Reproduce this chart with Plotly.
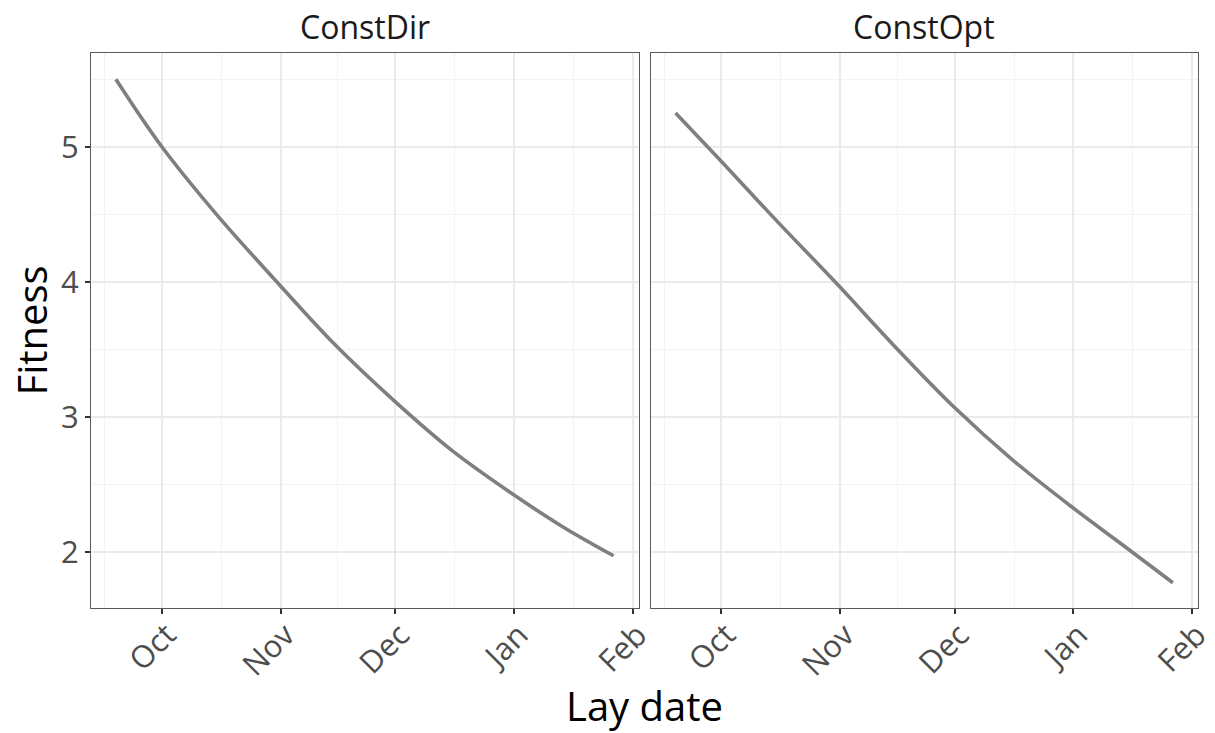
import plotly.graph_objects as go

# Fitted fitness curves by lay date for the two selection scenarios
lay_dates_constdir = ["2019-09-19", "2019-10-01", "2019-10-16", "2019-10-31", "2019-11-15",
                      "2019-12-01", "2019-12-16", "2020-01-01", "2020-01-14", "2020-01-27"]
fitness_constdir = [5.50, 5.00, 4.475, 4.00, 3.54, 3.11, 2.745, 2.42, 2.18, 1.97]

lay_dates_constopt = ["2019-09-19", "2019-10-01", "2019-10-16", "2019-10-31", "2019-11-15",
                      "2019-12-01", "2019-12-16", "2020-01-01", "2020-01-14", "2020-01-27"]
fitness_constopt = [5.25, 4.89, 4.434, 3.99, 3.53, 3.066, 2.683, 2.323, 2.048, 1.77]

panel_titles = ["ConstDir", "ConstOpt"]

month_ticks = ["2019-10-01", "2019-11-01", "2019-12-01", "2020-01-01", "2020-02-01"]
month_labels = ["Oct", "Nov", "Dec", "Jan", "Feb"]
month_minor = ["2019-09-16", "2019-10-16 12:00", "2019-11-16", "2019-12-16 12:00", "2020-01-16 12:00"]

fitness_ticks = [2, 3, 4, 5]
fitness_minor = [2.5, 3.5, 4.5, 5.5]

x_range = ["2019-09-12 12:00", "2020-02-02 12:00"]
y_range = [1.581, 5.694]

W, H = 1215, 733
FONT = "Open Sans"
LINE_COL = "#7f7f7f"
GRID_MAJOR = "#EBEBEB"
GRID_MINOR = "#F3F3F3"
BORDER = "#5a5a5a"

fig = go.Figure()
fig.add_trace(go.Scatter(x=lay_dates_constdir, y=fitness_constdir, mode="lines",
                         line=dict(color=LINE_COL, width=3.6, shape="spline", smoothing=1.0),
                         xaxis="x", yaxis="y", showlegend=False, hoverinfo="skip"))
fig.add_trace(go.Scatter(x=lay_dates_constopt, y=fitness_constopt, mode="lines",
                         line=dict(color=LINE_COL, width=3.6, shape="spline", smoothing=1.0),
                         xaxis="x2", yaxis="y2", showlegend=False, hoverinfo="skip"))

left_dom = [91 / W, 638.5 / W]
right_dom = [650.7 / W, 1197.7 / W]
y_dom = [1 - 608.3 / H, 1 - 53 / H]


def xaxis_cfg(anchor):
    return dict(
        type="date", range=x_range, anchor=anchor,
        tickmode="array", tickvals=month_ticks, ticktext=month_labels,
        tickangle=-45, tickfont=dict(family=FONT, size=31, color="#4D4D4D"),
        ticklabelstandoff=-10, ticklabelshift=5,
        ticks="outside", ticklen=5, tickwidth=1.5, tickcolor="#333333",
        showgrid=True, gridcolor=GRID_MAJOR, gridwidth=2,
        minor=dict(tickvals=month_minor, showgrid=True, gridcolor=GRID_MINOR, gridwidth=1, ticks=""),
        showline=True, mirror=True, linecolor=BORDER, linewidth=1.2,
        zeroline=False, automargin=False, fixedrange=True,
    )


def yaxis_cfg(anchor, labels):
    return dict(
        range=y_range, anchor=anchor,
        tickmode="array", tickvals=fitness_ticks,
        showticklabels=labels,
        tickfont=dict(family=FONT, size=31, color="#4D4D4D"),
        ticks="outside" if labels else "", ticklen=5, tickwidth=1.5, tickcolor="#333333",
        showgrid=True, gridcolor=GRID_MAJOR, gridwidth=2,
        minor=dict(tickvals=fitness_minor, showgrid=True, gridcolor=GRID_MINOR, gridwidth=1, ticks=""),
        showline=True, mirror=True, linecolor=BORDER, linewidth=1.2,
        zeroline=False, automargin=False, fixedrange=True,
    )


xa1 = xaxis_cfg("y"); xa1["domain"] = left_dom
xa2 = xaxis_cfg("y2"); xa2["domain"] = right_dom
ya1 = yaxis_cfg("x", True); ya1["domain"] = y_dom
ya2 = yaxis_cfg("x2", False); ya2["domain"] = y_dom; ya2["matches"] = "y"

annotations = [
    dict(text=panel_titles[0], x=sum(left_dom) / 2, y=1 - 27 / H, xref="paper", yref="paper",
         xanchor="center", yanchor="middle", showarrow=False,
         font=dict(family=FONT, size=32, color="#1A1A1A")),
    dict(text=panel_titles[1], x=sum(right_dom) / 2, y=1 - 27 / H, xref="paper", yref="paper",
         xanchor="center", yanchor="middle", showarrow=False,
         font=dict(family=FONT, size=32, color="#1A1A1A")),
    dict(text="Lay date", x=(left_dom[0] + right_dom[1]) / 2, y=1 - 705 / H,
         xref="paper", yref="paper", xanchor="center", yanchor="middle", showarrow=False,
         font=dict(family=FONT, size=40, color="#000000")),
    dict(text="Fitness", x=31 / W, y=1 - 330.5 / H, textangle=-90,
         xref="paper", yref="paper", xanchor="center", yanchor="middle", showarrow=False,
         font=dict(family=FONT, size=40, color="#000000")),
]

fig.update_layout(
    width=W, height=H,
    margin=dict(l=0, r=0, t=0, b=0),
    paper_bgcolor="white", plot_bgcolor="white",
    xaxis=xa1, xaxis2=xa2, yaxis=ya1, yaxis2=ya2,
    annotations=annotations,
    showlegend=False,
)

fig.write_html("out.html", config={"displayModeBar": False})
